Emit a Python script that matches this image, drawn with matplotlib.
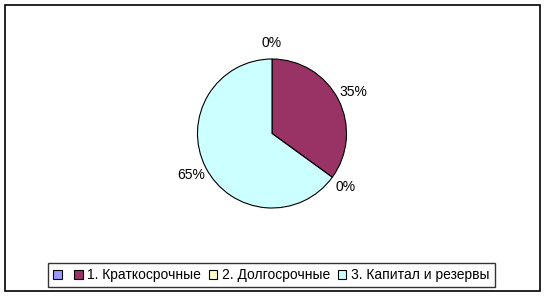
import matplotlib.pyplot as plt
from matplotlib.patches import Rectangle

plt.rcParams['font.family'] = ['Liberation Sans', 'DejaVu Sans']

labels = ['', '1. Краткосрочные', '2. Долгосрочные', '3. Капитал и резервы']
values = [0, 35, 0, 65]
colors = ['#9999FF', '#993366', '#FFFFCC', '#CCFFFF']

W, H = 547, 297
fig = plt.figure(figsize=(W / 100, H / 100), dpi=100)

# outer chart frame
fig.patches.append(Rectangle((5 / W, 6 / H), 535 / W, 286 / H, transform=fig.transFigure,
                             fill=False, edgecolor='black', linewidth=1.2))

# pie axes: centre (272, 133.5) px from top, radius 74.5 px
cx, cy, r = 272, H - 133.5, 74.5
half = 100
ax = fig.add_axes([(cx - half) / W, (cy - half) / H, 2 * half / W, 2 * half / H])

wedges, _, autotexts = ax.pie(values, colors=colors, startangle=90, counterclock=False,
                              autopct='%1.0f%%', pctdistance=1.22, radius=1,
                              wedgeprops=dict(edgecolor='black', linewidth=0.8),
                              textprops=dict(fontsize=10, color='black'))
lim = half / r
ax.set_xlim(-lim, lim)
ax.set_ylim(-lim, lim)
ax.axis('off')
for t in autotexts:
    t.set_clip_on(False)

leg = fig.legend(wedges, labels, loc='center', bbox_to_anchor=(271.5 / W, (H - 275) / H),
                 ncol=4, fontsize=10, frameon=True, fancybox=False, handlelength=0.6,
                 handleheight=0.6, handletextpad=0.35, columnspacing=0.55,
                 borderpad=0.35, borderaxespad=0)
leg.get_frame().set_edgecolor('black')
leg.get_frame().set_linewidth(1.0)
for h in leg.legend_handles:
    h.set_linewidth(0.8)

fig.savefig('out.png', dpi=100)
